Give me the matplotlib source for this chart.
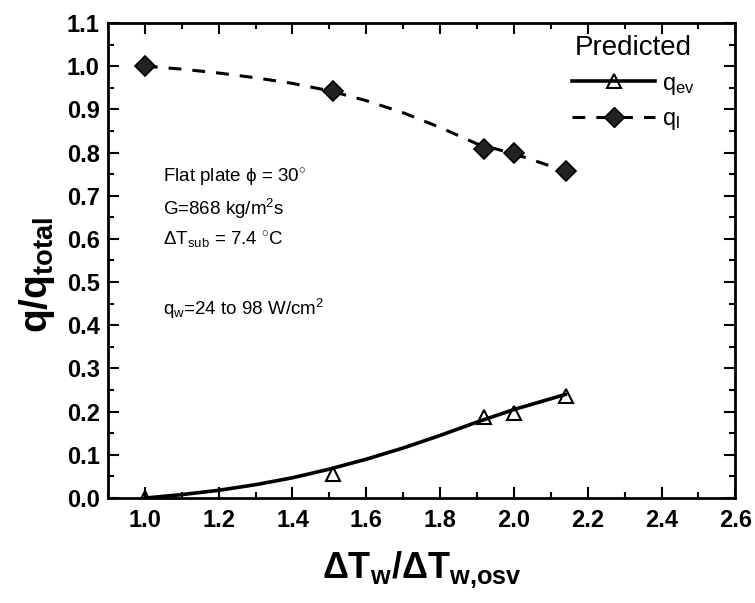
import matplotlib
matplotlib.use("Agg")
import matplotlib.pyplot as plt
from matplotlib.ticker import MultipleLocator

plt.rcParams['font.family'] = ['Liberation Sans', 'DejaVu Sans']
plt.rcParams['mathtext.fontset'] = 'custom'
plt.rcParams['mathtext.rm'] = 'Liberation Sans'
plt.rcParams['mathtext.it'] = 'Liberation Sans'
plt.rcParams['mathtext.bf'] = 'Liberation Sans:bold'

# Measured points
ratio = [1.0, 1.51, 1.92, 2.0, 2.14]
q_ev = [0.0, 0.055, 0.187, 0.198, 0.237]
q_l = [1.0, 0.943, 0.809, 0.799, 0.757]

# Predicted curves
curve_x = [1.0, 1.1, 1.2, 1.3, 1.4, 1.5, 1.6, 1.7, 1.8, 1.9, 2.0, 2.14]
curve_ev = [0.0, 0.008, 0.018, 0.031, 0.047, 0.067, 0.090, 0.116, 0.145, 0.176, 0.205, 0.240]
curve_l = [1.0, 0.993, 0.984, 0.973, 0.960, 0.943, 0.920, 0.892, 0.858, 0.820, 0.797, 0.757]

xticks = [1.0, 1.2, 1.4, 1.6, 1.8, 2.0, 2.2, 2.4, 2.6]
yticks = [0.0, 0.1, 0.2, 0.3, 0.4, 0.5, 0.6, 0.7, 0.8, 0.9, 1.0, 1.1]

fig = plt.figure(figsize=(7.55, 6.03), dpi=100)
ax = fig.add_axes([0.143, 0.174, 0.831, 0.788])

dash = (0, (4.2, 3.6))
ax.plot(curve_x, curve_ev, color='black', lw=2.6, solid_capstyle='round')
ax.plot(curve_x, curve_l, color='black', lw=2.2, ls=dash)
ax.plot(ratio, q_ev, ls='none', marker='^', ms=10, mfc='none', mec='black', mew=1.5)
ax.plot(ratio, q_l, ls='none', marker='D', ms=10.5, mfc='#222222', mec='black', mew=1.2)

# Legend entries
h_ev, = ax.plot([], [], color='black', lw=2.6, marker='^', ms=10, mfc='none', mec='black', mew=1.5)
h_l, = ax.plot([], [], color='black', lw=2.2, ls=dash, marker='D', ms=10.5, mfc='#222222', mec='black')
leg = ax.legend([h_ev, h_l], [r'q$_{\mathrm{ev}}$', r'q$_{\mathrm{l}}$'], title='Predicted',
                loc='upper right', bbox_to_anchor=(0.958, 1.005), frameon=False,
                fontsize=17, title_fontsize=20, handlelength=3.5, handletextpad=0.3,
                labelspacing=0.5, borderaxespad=0.2)

ax.set_xlim(0.9, 2.6)
ax.set_ylim(0.0, 1.1)
ax.set_xticks(xticks)
ax.set_yticks(yticks)
ax.set_xticklabels([f'{v:.1f}' for v in xticks], fontweight='bold')
ax.set_yticklabels([f'{v:.1f}' for v in yticks], fontweight='bold')
ax.xaxis.set_minor_locator(MultipleLocator(0.1))
ax.yaxis.set_minor_locator(MultipleLocator(0.05))
ax.tick_params(which='both', direction='in', top=True, right=True, labelsize=17, width=1.5)
ax.tick_params(which='major', length=8)
ax.tick_params(axis='x', which='major', pad=8)
ax.tick_params(axis='y', which='major', pad=6)
ax.tick_params(which='minor', length=4)
for s in ax.spines.values():
    s.set_linewidth(2.0)

ax.set_xlabel(r'$\mathbf{\Delta T_{w}/\Delta T_{w{,}osv}}$', fontsize=26, labelpad=12)
ax.set_ylabel(r'$\mathbf{q/q_{total}}$', fontsize=28)
ax.yaxis.set_label_coords(-0.082, 0.47)

txt = dict(fontsize=13.5, transform=ax.transData)
ax.text(1.05, 0.731, r'Flat plate $\phi$ = 30$^{\circ}$', **txt)
ax.text(1.05, 0.655, r'G=868 kg/m$^{2}$s', **txt)
ax.text(1.05, 0.585, r'$\Delta$T$_{\mathrm{sub}}$ = 7.4 $^{\circ}$C', **txt)
ax.text(1.05, 0.424, r'q$_{\mathrm{w}}$=24 to 98 W/cm$^{2}$', **txt)

fig.savefig('out.png', dpi=100)
